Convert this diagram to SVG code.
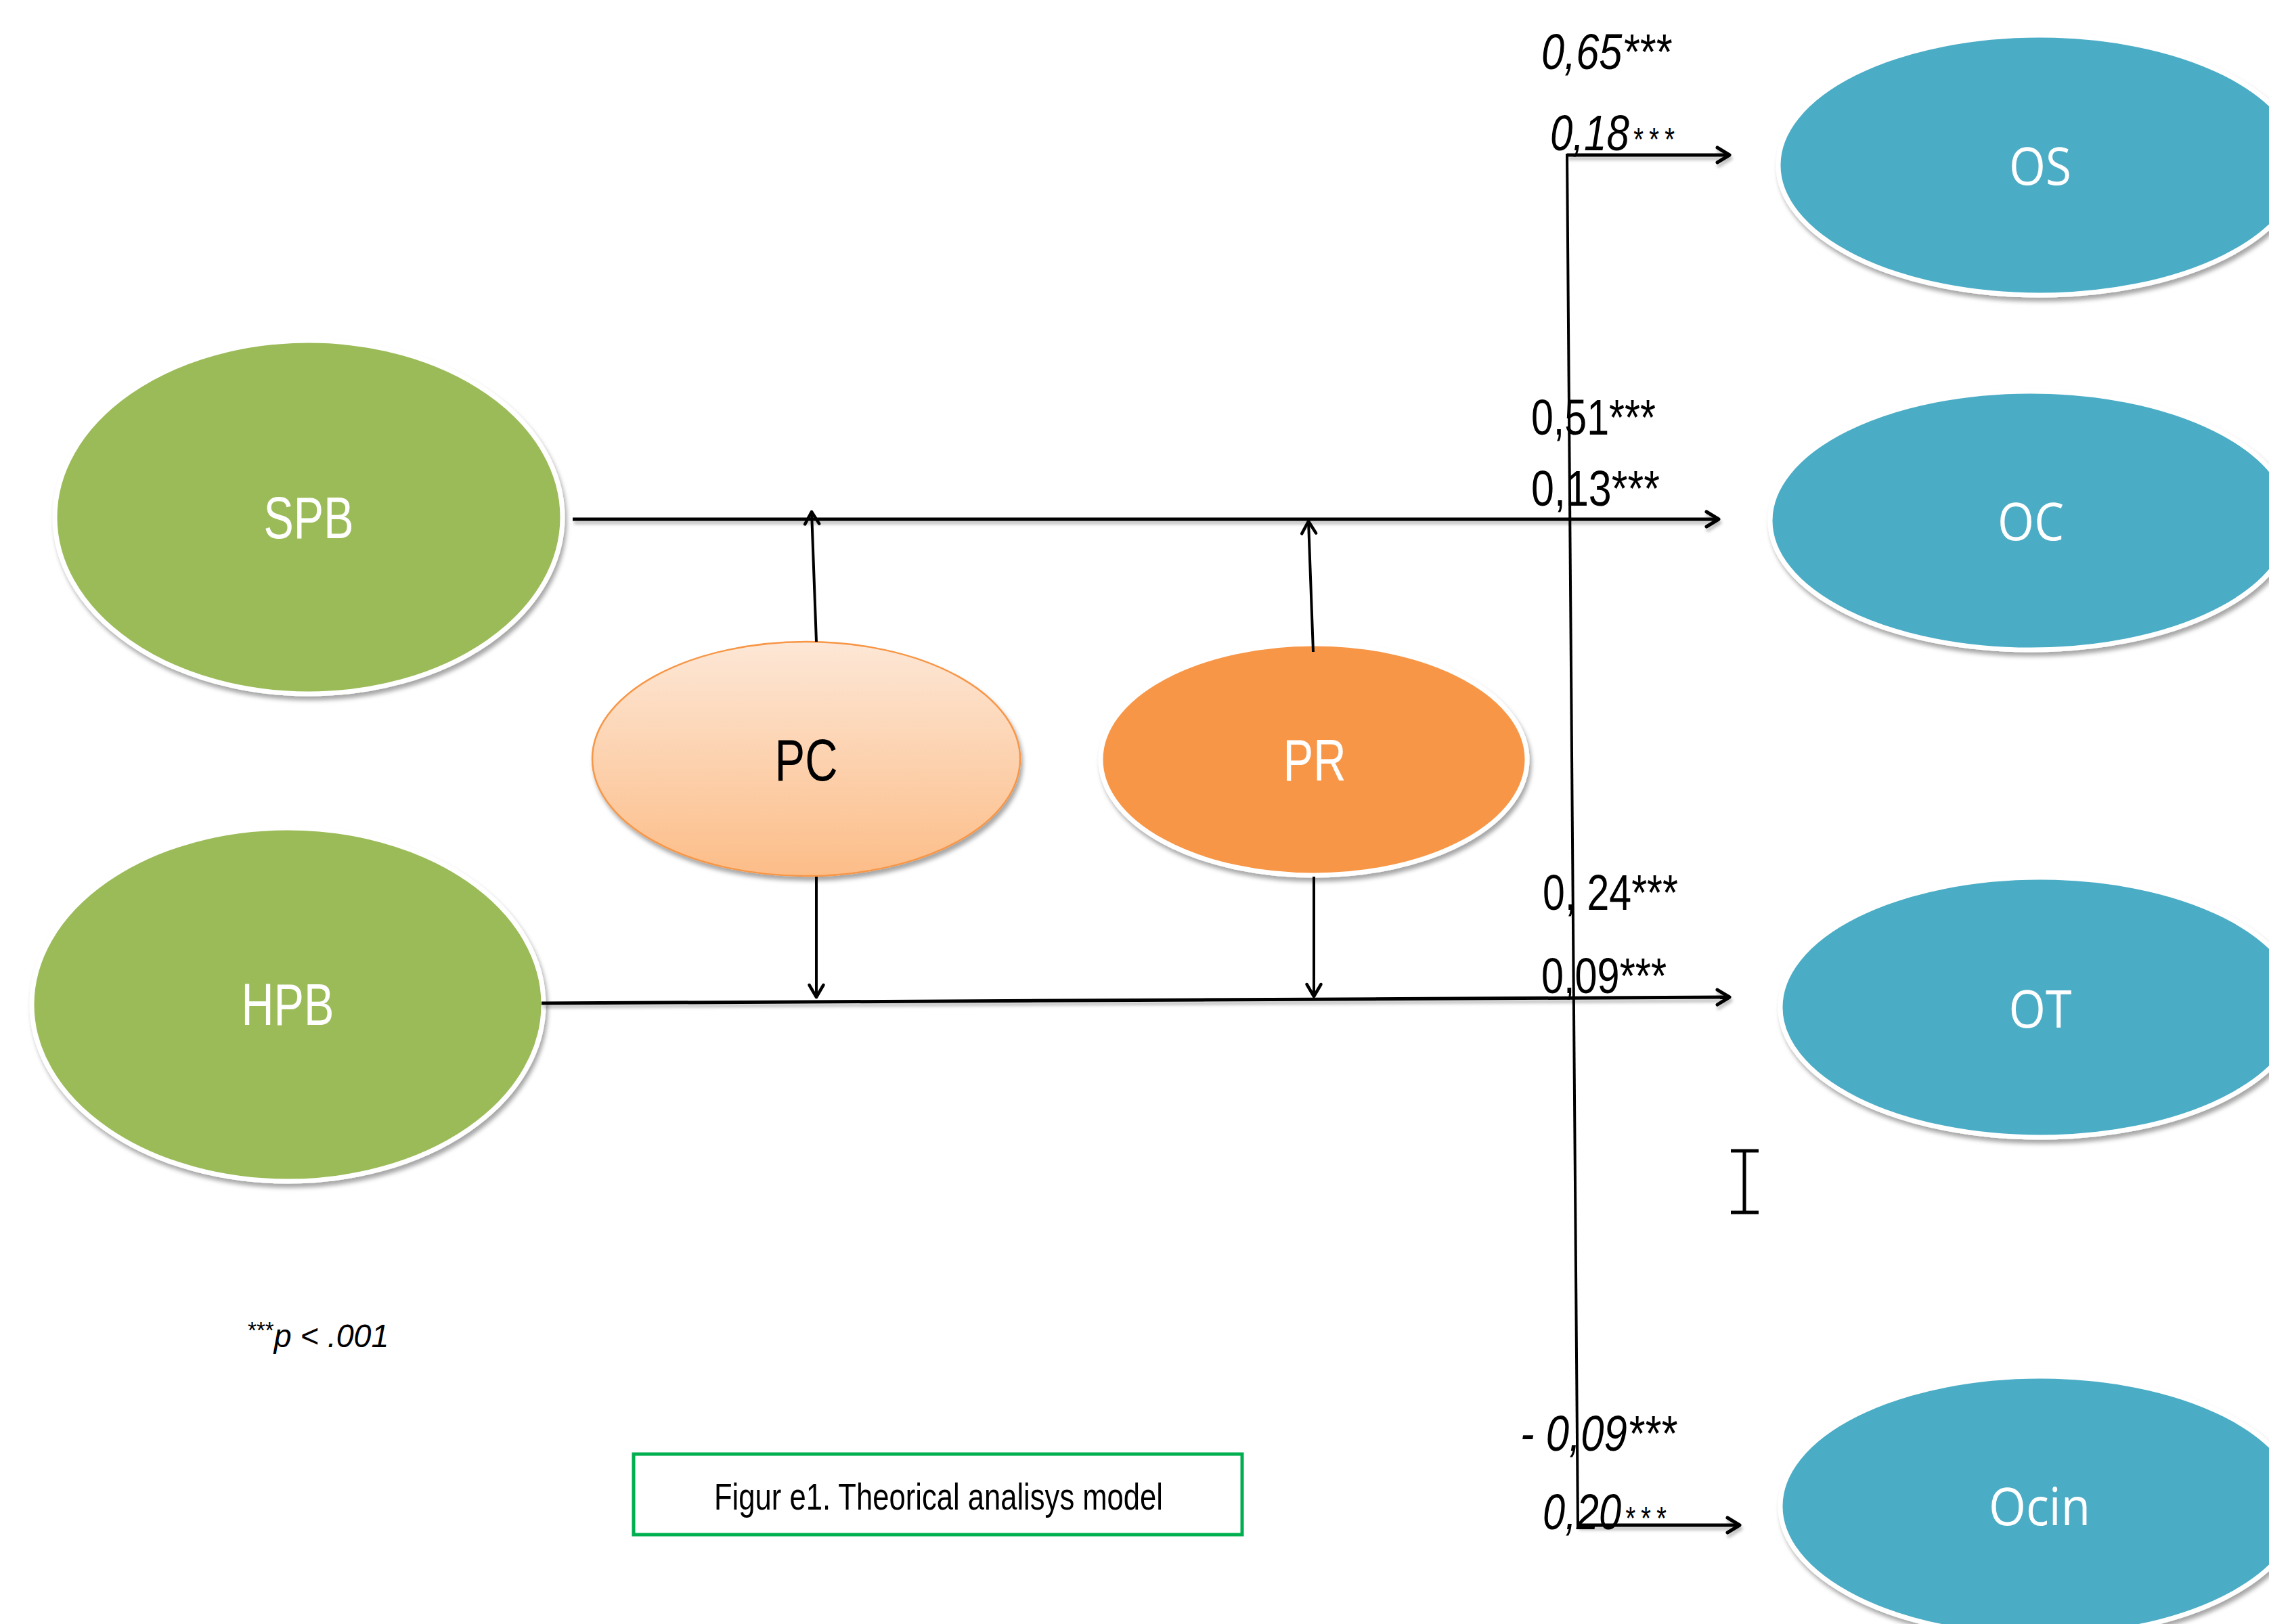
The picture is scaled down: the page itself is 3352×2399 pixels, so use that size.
<svg xmlns="http://www.w3.org/2000/svg" width="3352" height="2399" viewBox="0 0 3352 2399">
<style>
.t{font-family:"Liberation Sans",Arial,sans-serif;fill:#000}
.it{font-style:italic}
.lbl{font-family:"Liberation Sans",Arial,sans-serif;font-size:87px;text-anchor:middle}
.out{font-family:"Open Sans","Noto Sans",sans-serif;font-size:77px;fill:#fff;text-anchor:middle}
.green{fill:#9BBB59;stroke:#fff;stroke-width:7;filter:url(#sh)}
.blue{fill:#4BACC6;stroke:#fff;stroke-width:7;filter:url(#sh)}
.main{stroke:#000;stroke-width:5;fill:none}
.thin{stroke:#000;stroke-width:4;fill:none}
.sa{font-size:48px;letter-spacing:10px}
</style>
<defs>
<filter id="sh" x="-10%" y="-10%" width="125%" height="130%">
<feDropShadow dx="3" dy="6" stdDeviation="3" flood-color="#000" flood-opacity="0.35"/>
</filter>
<filter id="lsh" x="-5%" y="-50%" width="110%" height="300%">
<feDropShadow dx="2" dy="5" stdDeviation="2" flood-color="#000" flood-opacity="0.25"/>
</filter>
<linearGradient id="pcg" x1="0" y1="0" x2="0" y2="1">
<stop offset="0" stop-color="#FDE7D6"/>
<stop offset="1" stop-color="#FCBD88"/>
</linearGradient>
<marker id="ah" markerUnits="userSpaceOnUse" viewBox="0 0 22 24" refX="20" refY="12" markerWidth="22" markerHeight="24" orient="auto" overflow="visible">
<path d="M2,1 L20,12 L2,23" fill="none" stroke="#000" stroke-width="5" stroke-linecap="round" stroke-linejoin="round"/>
</marker>
<marker id="as" markerUnits="userSpaceOnUse" viewBox="0 0 22 24" refX="20" refY="12" markerWidth="22" markerHeight="24" orient="auto" overflow="visible">
<path d="M2,1.5 L20,12 L2,22.5" fill="none" stroke="#000" stroke-width="4.5" stroke-linecap="round" stroke-linejoin="round"/>
</marker>
</defs>
<rect width="3352" height="2399" fill="#fff"/>

<g id="SPB">
<ellipse class="green" cx="456" cy="764" rx="375" ry="261"/>
<text class="lbl" x="456" y="795" fill="#fff" textLength="133" lengthAdjust="spacingAndGlyphs">SPB</text>
</g>
<g id="HPB">
<ellipse class="green" cx="425" cy="1484" rx="378" ry="261"/>
<text class="lbl" x="425" y="1514" fill="#fff" textLength="137" lengthAdjust="spacingAndGlyphs">HPB</text>
</g>
<g id="PC">
<ellipse cx="1191" cy="1121" rx="316" ry="173" fill="url(#pcg)" stroke="#F79646" stroke-width="2.5" filter="url(#sh)"/>
<text class="lbl" x="1191" y="1153" fill="#000" textLength="93" lengthAdjust="spacingAndGlyphs">PC</text>
</g>
<g id="PR">
<ellipse cx="1941" cy="1122" rx="315" ry="171" fill="#F79646" stroke="#fff" stroke-width="7" filter="url(#sh)"/>
<text class="lbl" x="1942" y="1153" fill="#fff" textLength="93" lengthAdjust="spacingAndGlyphs">PR</text>
</g>
<g id="OS">
<ellipse class="blue" cx="3013" cy="244" rx="386" ry="192"/>
<text class="out" x="3014" y="273" textLength="92" lengthAdjust="spacingAndGlyphs">OS</text>
</g>
<g id="OC">
<ellipse class="blue" cx="3000" cy="769" rx="385" ry="191"/>
<text class="out" x="3000" y="798" textLength="98" lengthAdjust="spacingAndGlyphs">OC</text>
</g>
<g id="OT">
<ellipse class="blue" cx="3014" cy="1488" rx="384" ry="192"/>
<text class="out" x="3014" y="1518" textLength="93" lengthAdjust="spacingAndGlyphs">OT</text>
</g>
<g id="Ocin">
<ellipse class="blue" cx="3014" cy="2225" rx="384" ry="192"/>
<text class="out" x="3013" y="2253" textLength="150" lengthAdjust="spacingAndGlyphs">Ocin</text>
</g>

<g id="connectors">
<g filter="url(#lsh)">
<line class="main" x1="846" y1="767" x2="2539" y2="767" marker-end="url(#ah)"/>
<line class="main" x1="800" y1="1482" x2="2555" y2="1473" marker-end="url(#ah)"/>
<line class="main" x1="2315" y1="229" x2="2555" y2="229" marker-end="url(#ah)"/>
<line class="main" x1="2331" y1="2253" x2="2570" y2="2253" marker-end="url(#ah)"/>
</g>
<line class="thin" x1="2315" y1="227" x2="2331" y2="2255"/>
<line class="thin" x1="1206" y1="948" x2="1199" y2="756" marker-end="url(#as)"/>
<line class="thin" x1="1206" y1="1295" x2="1206" y2="1473" marker-end="url(#as)"/>
<line class="thin" x1="1940" y1="963" x2="1933" y2="770" marker-end="url(#as)"/>
<line class="thin" x1="1941" y1="1295" x2="1941" y2="1472" marker-end="url(#as)"/>
</g>

<g id="labels">
<text class="t it" x="2277" y="102" font-size="74" textLength="191" lengthAdjust="spacingAndGlyphs">0,65***</text>
<text class="t it" font-size="75" transform="translate(2290,222) scale(0.8,1)">0,18<tspan class="sa" dx="6">***</tspan></text>
<text class="t" x="2262" y="642" font-size="74" textLength="184" lengthAdjust="spacingAndGlyphs">0,51***</text>
<text class="t" x="2262" y="747" font-size="74" textLength="190" lengthAdjust="spacingAndGlyphs">0,13***</text>
<text class="t" x="2279" y="1344" font-size="74" textLength="200" lengthAdjust="spacingAndGlyphs">0, 24***</text>
<text class="t" x="2277" y="1467" font-size="74" textLength="185" lengthAdjust="spacingAndGlyphs">0,09***</text>
<text class="t it" x="2246" y="2143" font-size="74" textLength="230" lengthAdjust="spacingAndGlyphs">- 0,09***</text>
<text class="t it" font-size="75" transform="translate(2279,2259) scale(0.795,1)">0,20<tspan class="sa" dx="6">***</tspan></text>
<text class="t" font-size="49" transform="translate(366,1990) scale(0.95,1)"><tspan font-size="35" dy="-13">***</tspan><tspan class="it" dy="13">p &lt; .001</tspan></text>
</g>

<g id="cursor">
<path d="M2557,1700 H2598 M2577,1700 V1791 M2557,1791 H2598" fill="none" stroke="#000" stroke-width="5"/>
</g>

<g id="caption">
<rect x="936" y="2148" width="899" height="119" fill="#fff" stroke="#00B050" stroke-width="5"/>
<text class="t" x="1055" y="2230" font-size="56" textLength="663" lengthAdjust="spacingAndGlyphs">Figur e1. Theorical analisys model</text>
</g>
</svg>
